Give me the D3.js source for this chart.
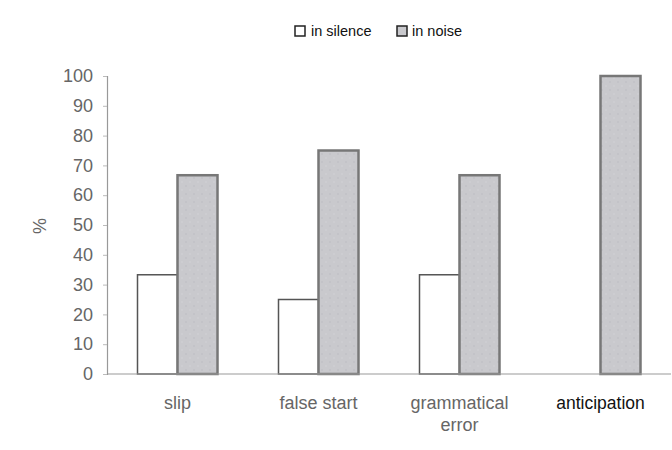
<!DOCTYPE html>
<html><head><meta charset="utf-8">
<script src="https://cdn.jsdelivr.net/npm/d3@7"></script>
<style>body{margin:0;background:#fff}svg{display:block}</style>
</head><body>
<svg id="c" width="672" height="450"></svg>
<script>
const categories = ["slip", "false start", "grammatical error", "anticipation"];
const silence = [33.3, 25, 33.3, 0];
const noise = [66.7, 75, 66.7, 100];
const yTicks = [0,10,20,30,40,50,60,70,80,90,100];
const seriesNames = ["in silence", "in noise"];

const svg = d3.select("#c");
const m = {left:107, right:671, top:76, bottom:374};
const x = d3.scaleBand().domain(categories).range([m.left, m.right]);
const y = d3.scaleLinear().domain([0,100]).range([m.bottom, m.top]);
const bw = 40;
const FONT = "Arial, Liberation Sans, sans-serif";

const defs = svg.append("defs");
const pat = defs.append("pattern").attr("id","dots").attr("width",8).attr("height",8).attr("patternUnits","userSpaceOnUse");
pat.append("rect").attr("width",8).attr("height",8).attr("fill","#c9c9cd");
pat.append("circle").attr("cx",2).attr("cy",2).attr("r",0.8).attr("fill","#bdbdc3");
pat.append("circle").attr("cx",6).attr("cy",6).attr("r",0.8).attr("fill","#d3d3d6");

const g = svg.append("g");
categories.forEach((c,i)=>{
  const cx = x(c) + x.bandwidth()/2;
  if (silence[i] > 0) {
    g.append("rect").attr("x", cx-bw).attr("y", y(silence[i])).attr("width", bw).attr("height", y(0)-y(silence[i]))
      .attr("fill","#fff").attr("stroke","#555").attr("stroke-width",1.5);
  }
  g.append("rect").attr("x", cx).attr("y", y(noise[i])).attr("width", bw).attr("height", y(0)-y(noise[i]))
    .attr("fill","url(#dots)").attr("stroke","#777").attr("stroke-width",2.5);
});

const ya = svg.append("g").attr("transform",`translate(${m.left},0)`)
  .call(d3.axisLeft(y).tickValues(yTicks).tickSize(4).tickPadding(10));
ya.select(".domain").attr("stroke","#999").attr("stroke-width",1.2);
ya.selectAll(".tick line").attr("stroke","#bbb");
ya.selectAll("text").attr("font-family",FONT).attr("font-size",18).attr("fill","#666");

svg.append("line").attr("x1",m.left).attr("x2",m.right).attr("y1",m.bottom).attr("y2",m.bottom)
  .attr("stroke","#999").attr("stroke-width",1.2);

categories.forEach((c,i)=>{
  const cx = x(c) + x.bandwidth()/2;
  const t = svg.append("text").attr("x",cx).attr("y",409).attr("text-anchor","middle")
    .attr("font-family",FONT).attr("font-size",i===3 ? 17.5 : 18)
    .attr("fill", i===3 ? "#111" : "#666");
  if (c === "grammatical error") {
    t.append("tspan").attr("x",cx).text("grammatical");
    t.append("tspan").attr("x",cx).attr("dy",22).text("error");
  } else t.text(c);
});

svg.append("text").attr("transform","translate(46,226) rotate(-90)").attr("text-anchor","middle")
  .attr("font-family",FONT).attr("font-size",18).attr("fill","#666").text("%");

const lg = svg.append("g").attr("font-family",FONT).attr("font-size",14.5).attr("fill","#111");
lg.append("rect").attr("x",295).attr("y",26).attr("width",10).attr("height",10).attr("fill","#fff").attr("stroke","#222").attr("stroke-width",1.5);
lg.append("text").attr("x",311).attr("y",36).text(seriesNames[0]);
lg.append("rect").attr("x",397).attr("y",26).attr("width",10).attr("height",10).attr("fill","#c9c9cd").attr("stroke","#222").attr("stroke-width",1.5);
lg.append("text").attr("x",412).attr("y",36).text(seriesNames[1]);
</script>
</body></html>
